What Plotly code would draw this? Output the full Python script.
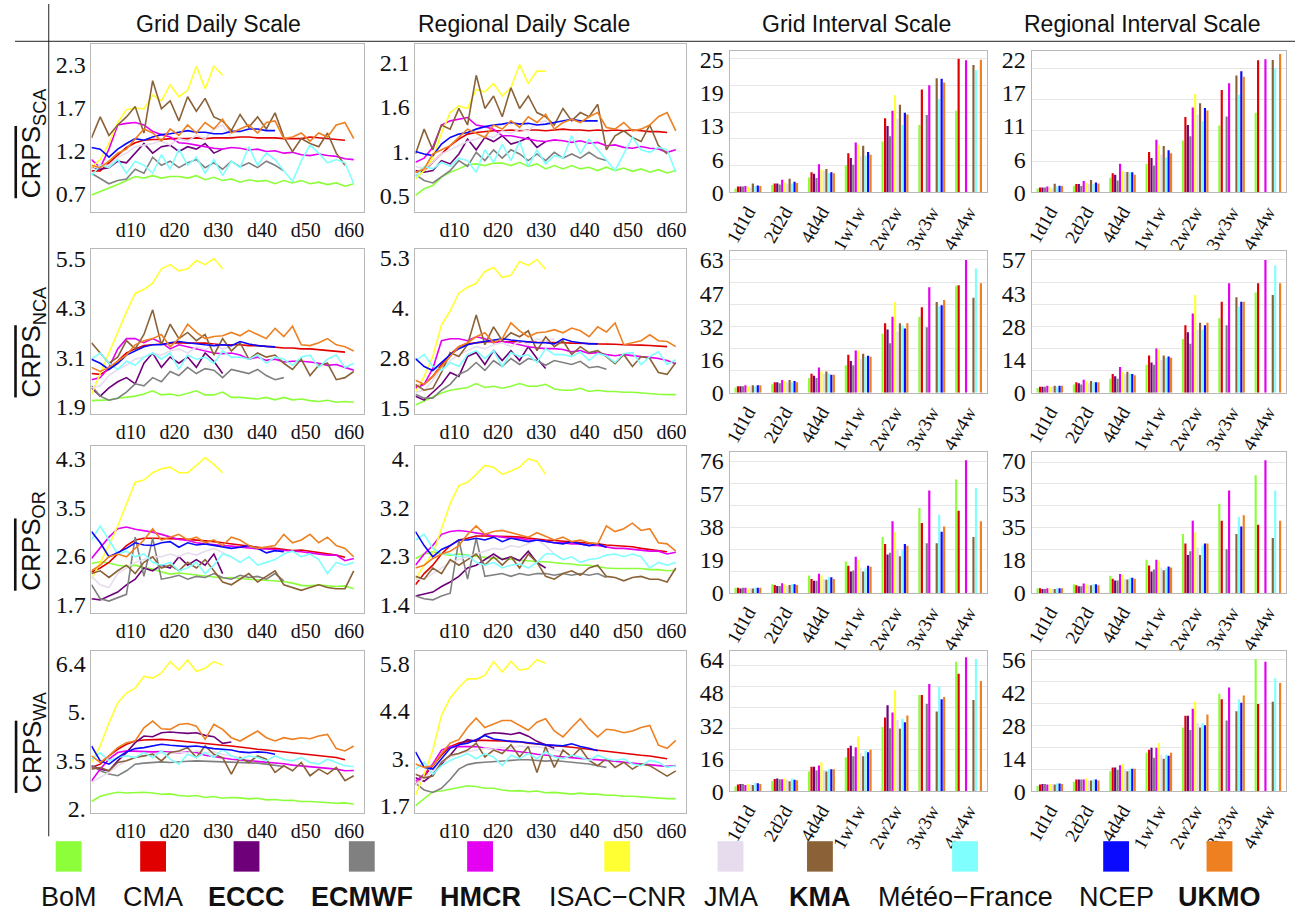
import plotly.graph_objects as go

W, H = 1296, 918

# ---------------------------------------------------------------- data
MODELS = ["BoM", "CMA", "ECCC", "ECMWF", "HMCR", "ISAC\u2212CNR", "JMA", "KMA",
          "Météo\u2212France", "NCEP", "UKMO"]
BOLD = [False, False, True, True, True, False, False, True, False, False, True]
COLORS = ["#8CFF3A", "#E00000", "#6E007A", "#808080", "#E400F0", "#FFFF33",
          "#E6DCEE", "#8B6238", "#80FFFF", "#0A0AFF", "#EE8022"]

DAYS = list(range(1, 63, 2))
DAY_TICKS = [10, 20, 30, 40, 50, 60]
DAY_LABELS = ["d10", "d20", "d30", "d40", "d50", "d60"]
INTERVALS = ["1d1d", "2d2d", "4d4d", "1w1w", "2w2w", "3w3w", "4w4w"]

# daily mean CRPS, one row per model (BoM ... UKMO), sampled every second day
SCA_GRID_DAILY = [
    [0.68,0.72,0.77,0.81,0.86,0.91,0.89,0.92,0.89,0.91,0.91,0.89,0.92,0.87,0.90,0.86,0.88,0.84,0.87,0.85,0.86,0.82,0.86,0.83,0.86,0.82,0.84,0.81,0.83,0.79,0.82],
    [0.98,0.98,1.08,1.17,1.27,1.33,1.36,1.37,1.37,1.38,1.38,1.38,1.39,1.38,1.39,1.39,1.39,1.40,1.40,1.39,1.39,1.39,1.38,1.38,1.38,1.40,1.39,1.38,1.37,1.36],
    [1.02,1.00,1.02,1.10,1.08,1.20,1.32,1.20,1.28,1.30,1.22,1.28,1.25,1.32,1.20,1.25],
    [0.95,0.88,0.82,0.86,0.88,1.00,0.95,1.15,1.05,1.10,1.02,1.08,1.12,1.02,1.08,1.00,1.10,1.03,1.08,1.02,1.10,1.05,0.98],
    [1.12,1.02,1.25,1.55,1.57,1.58,1.55,1.47,1.43,1.40,1.33,1.32,1.30,1.28,1.26,1.25,1.27,1.26,1.24,1.25,1.22,1.23,1.20,1.21,1.18,1.17,1.19,1.17,1.16,1.13,1.12],
    [1.02,1.12,1.32,1.58,1.74,1.76,1.75,1.92,1.85,2.05,1.90,1.98,2.28,2.00,2.28,2.17],
    [1.00,1.05,1.05,1.15,1.20,1.28,1.30,1.32,1.35,1.30,1.38,1.35,1.42,1.38,1.50,1.55,1.40],
    [1.39,1.65,1.42,1.55,1.65,1.78,1.45,2.10,1.75,1.85,1.60,1.90,1.72,1.88,1.65,1.60,1.48,1.68,1.52,1.65,1.50,1.70,1.40,1.22,1.38,1.32,1.28,1.45,1.20,1.05],
    [0.92,1.05,1.02,1.12,0.95,1.10,1.05,0.95,1.18,1.00,1.25,1.05,1.15,0.95,1.12,0.92,1.10,1.02,1.28,1.05,1.20,1.12,0.98,0.85,1.10,1.30,1.20,1.08,1.12,1.08,0.82],
    [1.27,1.25,1.15,1.25,1.32,1.38,1.36,1.40,1.43,1.44,1.46,1.48,1.46,1.46,1.44,1.44,1.47,1.47,1.50,1.50,1.48,1.48],
    [1.05,1.02,1.10,1.20,1.25,1.38,1.50,1.45,1.35,1.50,1.42,1.55,1.45,1.58,1.50,1.62,1.45,1.50,1.55,1.45,1.58,1.60,1.38,1.40,1.45,1.35,1.45,1.40,1.55,1.58,1.38],
]
SCA_REG_DAILY = [
    [0.50,0.58,0.62,0.72,0.78,0.82,0.87,0.88,0.86,0.89,0.89,0.86,0.90,0.85,0.88,0.82,0.86,0.82,0.86,0.82,0.84,0.80,0.84,0.80,0.83,0.79,0.82,0.78,0.81,0.77,0.80],
    [0.78,0.80,0.90,1.00,1.10,1.18,1.24,1.26,1.27,1.28,1.28,1.29,1.28,1.29,1.29,1.28,1.29,1.30,1.29,1.29,1.28,1.29,1.28,1.29,1.28,1.29,1.28,1.27,1.27,1.26],
    [0.80,0.78,0.80,0.92,0.88,1.00,1.18,1.05,1.20,1.15,1.22,1.12,1.15,1.20,1.08,1.15],
    [0.75,0.68,0.65,0.72,0.80,0.92,0.85,1.02,0.92,1.05,0.95,1.05,1.00,0.92,1.00,0.92,1.02,0.95,1.00,0.95,1.02,0.95,0.92],
    [0.90,0.95,1.08,1.35,1.40,1.42,1.44,1.35,1.33,1.30,1.22,1.22,1.20,1.18,1.16,1.15,1.17,1.16,1.14,1.16,1.13,1.14,1.10,1.11,1.08,1.07,1.09,1.07,1.06,1.02,1.05],
    [0.70,0.80,0.95,1.25,1.50,1.58,1.55,1.78,1.75,1.85,1.70,1.80,2.08,1.85,2.00,2.00],
    [0.85,0.82,0.90,1.00,1.05,1.10,1.15,1.18,1.22,1.20,1.28,1.25,1.30,1.28,1.38,1.40,1.32],
    [1.00,1.30,1.05,1.35,1.30,1.55,1.35,1.95,1.55,1.70,1.45,1.80,1.55,1.70,1.50,1.45,1.35,1.55,1.40,1.50,1.45,1.60,1.05,1.22,1.28,1.20,1.15,1.35,1.10,1.00],
    [0.72,0.85,0.82,0.90,0.85,0.95,0.92,0.78,1.05,0.90,1.12,0.92,1.15,0.85,1.05,0.88,0.98,0.95,1.22,1.00,1.18,1.05,0.92,0.80,1.00,1.20,1.05,1.02,1.08,1.05,0.78],
    [1.03,1.00,0.98,1.12,1.20,1.24,1.26,1.30,1.33,1.35,1.36,1.38,1.36,1.37,1.35,1.36,1.38,1.40,1.42,1.40,1.40,1.40],
    [0.78,0.82,1.00,1.05,1.10,1.20,1.30,1.25,1.20,1.35,1.30,1.40,1.32,1.45,1.38,1.48,1.30,1.38,1.42,1.38,1.45,1.50,1.32,1.30,1.38,1.28,1.30,1.35,1.45,1.50,1.28],
]
NCA_GRID_DAILY = [
    [2.04,2.05,2.06,2.10,2.12,2.15,2.20,2.28,2.18,2.20,2.16,2.22,2.28,2.18,2.18,2.25,2.12,2.12,2.10,2.08,2.12,2.06,2.12,2.06,2.08,2.04,2.02,2.05,2.00,2.02,2.00],
    [2.70,2.68,2.80,3.00,3.20,3.30,3.38,3.40,3.42,3.44,3.45,3.44,3.44,3.44,3.42,3.40,3.40,3.40,3.38,3.38,3.36,3.34,3.32,3.32,3.30,3.30,3.28,3.26,3.24,3.22],
    [2.35,2.15,2.35,2.50,2.60,2.45,2.95,3.20,2.85,3.10,2.95,3.10,2.85,3.20,3.00,2.70],
    [2.40,2.15,2.05,2.10,2.25,2.45,2.40,2.60,2.50,2.75,2.65,2.85,2.70,2.82,2.78,2.60,2.80,2.75,2.70,2.80,2.65,2.55,2.60],
    [2.55,2.60,2.85,3.30,3.55,3.55,3.45,3.55,3.45,3.30,3.40,3.35,3.30,3.25,3.20,3.18,3.20,3.15,3.05,3.10,3.02,3.05,2.98,3.00,3.00,2.98,2.95,2.90,2.92,2.85,2.78],
    [2.20,2.70,3.20,3.70,4.20,4.65,4.75,4.90,5.25,5.35,5.20,5.25,5.45,5.35,5.50,5.25],
    [2.35,2.40,2.65,2.80,2.90,3.05,3.10,3.20,3.15,3.25,3.30,3.20,3.35,3.28,3.40,3.30,3.35],
    [3.45,3.20,2.95,3.10,3.50,3.30,3.65,4.25,3.40,3.90,3.55,3.70,3.50,3.65,3.15,3.55,3.25,3.45,3.05,3.20,3.10,3.15,2.95,2.80,3.05,2.65,2.90,2.95,2.55,2.60,2.75],
    [3.05,3.20,2.95,2.80,3.00,2.90,3.10,3.20,3.05,3.20,2.80,3.15,3.05,3.10,2.95,3.25,3.10,3.10,3.05,3.15,2.95,3.10,3.05,2.90,3.10,3.15,2.85,3.05,3.15,2.85,2.95],
    [3.05,2.95,2.80,2.95,3.15,3.25,3.35,3.40,3.40,3.45,3.48,3.45,3.42,3.40,3.38,3.40,3.38,3.48,3.42,3.38,3.36,3.35],
    [2.85,2.75,2.85,3.00,3.15,3.40,3.50,3.55,3.65,3.35,3.55,3.90,3.70,3.55,3.60,3.62,3.70,3.62,3.75,3.65,3.55,3.80,3.60,3.85,3.40,3.38,3.45,3.55,3.40,3.35,3.25],
]
NCA_REG_DAILY = [
    [1.58,1.68,1.78,1.88,1.95,1.98,2.02,2.12,2.02,2.05,2.00,2.05,2.12,2.05,2.05,2.10,1.98,1.95,1.95,2.00,1.92,1.95,1.92,1.92,1.90,1.90,1.88,1.86,1.85,1.84,1.84],
    [2.05,2.10,2.30,2.60,2.85,3.05,3.12,3.15,3.17,3.18,3.18,3.18,3.17,3.17,3.16,3.16,3.15,3.15,3.14,3.14,3.13,3.12,3.12,3.11,3.10,3.10,3.09,3.08,3.06,3.05],
    [1.80,1.70,1.90,2.10,2.40,2.30,2.80,2.90,2.60,2.95,2.70,2.95,2.70,3.05,2.75,2.50],
    [1.85,1.75,1.75,1.95,2.10,2.35,2.45,2.65,2.45,2.70,2.55,2.75,2.60,2.75,2.70,2.58,2.70,2.65,2.60,2.68,2.52,2.55,2.48],
    [2.00,2.10,2.50,3.20,3.25,3.25,3.20,3.30,3.25,3.15,3.18,3.15,3.10,3.05,3.02,3.00,3.00,2.98,2.92,2.95,2.88,2.90,2.85,2.82,2.85,2.82,2.80,2.78,2.75,2.70,2.62],
    [1.90,2.30,2.80,3.60,3.95,4.40,4.55,4.65,4.95,5.05,4.80,4.85,5.20,5.10,5.25,5.00],
    [1.90,1.95,2.20,2.50,2.70,2.85,2.95,3.05,3.00,3.10,3.15,3.05,3.20,3.10,3.25,3.20,3.25],
    [2.10,1.95,2.00,2.40,2.90,2.80,3.10,3.85,3.10,3.55,3.20,3.40,3.30,3.45,2.95,3.30,3.05,3.20,2.85,3.05,2.90,2.95,2.80,2.62,2.85,2.55,2.80,2.75,2.40,2.35,2.65],
    [2.70,2.85,2.55,2.45,2.65,2.55,2.85,2.95,2.75,2.95,2.55,2.90,2.80,2.85,2.65,3.00,2.85,2.85,2.80,2.92,2.70,2.88,2.82,2.65,2.88,2.90,2.60,2.80,2.92,2.60,2.72],
    [2.75,2.55,2.45,2.65,2.85,3.00,3.10,3.15,3.18,3.22,3.25,3.22,3.20,3.18,3.15,3.15,3.12,3.25,3.18,3.15,3.12,3.12],
    [2.20,2.10,2.30,2.55,2.80,3.05,3.15,3.30,3.40,3.15,3.25,3.65,3.45,3.30,3.40,3.42,3.48,3.40,3.52,3.45,3.30,3.55,3.42,3.65,3.10,3.15,3.20,3.35,3.20,3.18,3.05],
]
OR_GRID_DAILY = [
    [2.43,2.46,2.44,2.40,2.38,2.40,2.36,2.33,2.28,2.24,2.26,2.24,2.22,2.20,2.19,2.17,2.18,2.16,2.15,2.14,2.13,2.12,2.11,2.08,2.04,2.03,2.05,2.03,2.02,2.03,1.98],
    [2.28,2.35,2.45,2.60,2.75,2.85,2.88,2.88,2.88,2.88,2.87,2.86,2.85,2.84,2.82,2.80,2.78,2.76,2.75,2.72,2.70,2.70,2.68,2.66,2.67,2.65,2.62,2.60,2.58,2.54],
    [1.80,1.78,1.85,1.92,2.05,2.15,2.35,2.30,2.40,2.35,2.55,2.40,2.50,2.40,2.60,2.25],
    [2.05,1.80,1.76,1.82,1.88,2.90,2.20,2.88,2.15,2.18,2.22,2.15,2.20,2.18,2.25,2.18,2.15,2.22,2.18,2.20,2.15,2.25,2.12],
    [2.52,2.70,2.90,3.05,3.08,3.04,3.02,2.99,2.95,2.90,2.86,2.84,2.80,2.78,2.76,2.75,2.74,2.72,2.71,2.69,2.69,2.68,2.66,2.65,2.64,2.62,2.60,2.58,2.58,2.48,2.52],
    [2.15,2.45,2.75,3.10,3.50,3.88,3.92,4.05,4.12,4.15,4.05,4.05,4.18,4.32,4.20,4.05],
    [2.20,2.05,2.00,2.25,2.35,2.45,2.50,2.55,2.55,2.60,2.55,2.62,2.58,2.65,2.70,2.62,2.55,2.45],
    [2.25,2.30,2.18,2.30,2.40,2.25,2.45,2.55,2.35,2.40,2.30,2.45,2.35,2.50,2.30,2.10,2.05,2.15,2.25,2.10,2.20,2.30,2.05,2.00,1.95,2.00,2.05,2.00,1.98,1.98,2.30],
    [2.85,3.10,2.85,2.60,2.65,2.55,2.60,2.45,2.40,2.45,2.30,2.35,2.45,2.25,2.40,2.60,2.55,2.45,2.55,2.40,2.45,2.50,2.60,2.65,2.55,2.60,2.50,2.25,2.45,2.40,2.45],
    [3.00,2.80,2.55,2.62,2.70,2.80,2.76,2.75,2.80,2.82,2.72,2.80,2.76,2.78,2.75,2.72,2.70,2.72,2.75,2.70,2.62,2.66,2.64],
    [2.30,2.40,2.55,2.60,2.55,2.70,2.85,3.05,2.85,2.90,2.95,2.85,2.90,2.80,2.85,2.75,2.90,2.85,2.75,2.70,2.72,2.75,2.95,2.80,2.85,2.95,2.80,2.90,2.75,2.70,2.55],
]
OR_REG_DAILY = [
    [2.22,2.30,2.34,2.30,2.28,2.30,2.28,2.26,2.24,2.22,2.22,2.20,2.19,2.18,2.16,2.16,2.14,2.13,2.12,2.10,2.10,2.07,2.05,2.04,2.04,2.03,2.04,2.02,2.02,2.00,2.01],
    [1.75,1.95,2.10,2.30,2.45,2.55,2.58,2.62,2.62,2.62,2.62,2.61,2.60,2.58,2.56,2.55,2.54,2.53,2.52,2.51,2.50,2.48,2.46,2.45,2.44,2.43,2.40,2.38,2.36,2.34],
    [1.55,1.58,1.62,1.72,1.80,1.90,2.05,2.10,2.20,2.30,2.20,2.25,2.18,2.35,2.15,2.05],
    [1.55,1.50,1.48,1.55,1.60,2.55,1.85,2.58,1.90,1.92,1.95,1.90,1.95,1.92,1.95,1.95,1.92,1.95,1.92,1.95,1.92,1.95,1.88],
    [2.10,2.30,2.45,2.65,2.70,2.72,2.70,2.68,2.65,2.62,2.60,2.58,2.58,2.55,2.55,2.52,2.50,2.50,2.48,2.48,2.45,2.45,2.42,2.40,2.40,2.38,2.36,2.35,2.35,2.30,2.33],
    [1.85,2.10,2.30,2.75,3.20,3.52,3.58,3.72,3.88,3.85,3.72,3.78,3.85,4.00,3.95,3.72],
    [1.85,1.85,1.95,2.05,2.15,2.20,2.25,2.30,2.35,2.40,2.38,2.45,2.42,2.48,2.55,2.45,2.30,2.20],
    [1.90,1.85,2.05,1.95,2.20,2.10,2.20,2.30,2.10,2.25,2.10,2.25,2.05,2.30,2.15,1.90,1.85,1.95,2.00,1.92,2.05,2.10,1.90,1.88,1.82,1.88,1.90,1.85,1.85,1.80,2.05],
    [2.55,2.65,2.40,2.30,2.30,2.25,2.28,2.15,2.10,2.15,2.05,2.10,2.12,2.05,2.15,2.30,2.30,2.20,2.25,2.15,2.20,2.22,2.28,2.30,2.25,2.30,2.25,2.05,2.15,2.10,2.15],
    [2.70,2.45,2.25,2.38,2.45,2.55,2.55,2.58,2.55,2.60,2.52,2.58,2.55,2.52,2.55,2.52,2.50,2.48,2.52,2.48,2.45,2.48,2.42],
    [2.05,2.10,2.22,2.30,2.35,2.45,2.65,2.80,2.65,2.70,2.72,2.68,2.65,2.60,2.68,2.62,2.55,2.60,2.52,2.55,2.50,2.48,2.80,2.70,2.75,2.85,2.72,2.75,2.50,2.48,2.35],
]
WA_GRID_DAILY = [
    [2.22,2.38,2.45,2.50,2.48,2.50,2.50,2.48,2.44,2.45,2.40,2.38,2.40,2.34,2.37,2.32,2.34,2.33,2.30,2.32,2.27,2.28,2.25,2.26,2.22,2.22,2.20,2.20,2.17,2.18,2.14],
    [3.25,3.35,3.60,3.80,3.95,4.05,4.08,4.10,4.10,4.08,4.05,4.02,4.00,3.98,3.95,3.92,3.90,3.86,3.83,3.80,3.78,3.75,3.72,3.68,3.65,3.63,3.61,3.58,3.55,3.48],
    [3.30,3.20,3.15,3.45,3.70,4.00,4.20,4.18,4.30,4.32,4.30,4.28,4.30,4.22,4.18,3.98,4.02],
    [3.30,3.15,3.05,3.00,3.15,3.35,3.38,3.40,3.42,3.40,3.43,3.44,3.45,3.44,3.43,3.42,3.42,3.40,3.40,3.38,3.35,3.32,3.28],
    [2.84,3.20,3.50,3.70,3.75,3.74,3.72,3.72,3.73,3.72,3.70,3.72,3.70,3.62,3.58,3.52,3.50,3.48,3.46,3.44,3.42,3.40,3.36,3.32,3.30,3.28,3.26,3.24,3.20,3.15,3.16],
    [3.40,3.90,4.60,5.20,5.50,5.65,6.00,5.95,6.10,6.45,6.20,6.50,6.15,6.25,6.45,6.35],
    [2.80,2.95,3.10,3.30,3.45,3.55,3.60,3.65,3.70,3.68,3.72,3.70,3.75,3.70,3.72,3.65,3.60,3.55],
    [3.20,3.25,3.15,3.40,3.45,3.55,3.60,3.65,3.45,3.70,3.75,3.85,3.55,3.90,3.65,3.55,3.05,3.55,3.40,3.60,3.50,3.10,3.30,3.15,3.40,3.00,3.20,3.05,3.25,2.85,3.00],
    [3.50,3.70,3.45,3.55,3.60,3.55,3.70,3.55,3.75,3.50,3.35,3.65,3.55,3.70,3.55,3.80,3.60,3.50,3.60,3.55,3.45,3.60,3.50,3.45,3.55,3.40,3.35,3.50,3.40,3.30,3.28],
    [3.90,3.45,3.35,3.55,3.72,3.82,3.85,3.90,3.95,3.92,3.90,3.88,3.90,3.85,3.82,3.80,3.78,3.72,3.70,3.72,3.70,3.65],
    [3.60,3.40,3.60,3.85,4.00,4.05,4.45,4.65,4.42,4.40,4.55,4.58,4.50,4.10,4.55,4.40,4.15,4.05,4.20,4.35,4.15,4.05,4.15,4.10,4.15,4.12,4.20,4.25,3.82,3.75,3.90],
]
WA_REG_DAILY = [
    [1.70,1.90,2.10,2.12,2.18,2.22,2.27,2.25,2.20,2.20,2.15,2.12,2.13,2.10,2.12,2.07,2.08,2.06,2.03,2.06,2.03,2.03,2.00,2.00,1.97,1.97,1.95,1.94,1.93,1.90,1.90],
    [2.30,2.55,2.85,3.15,3.40,3.50,3.55,3.58,3.58,3.58,3.56,3.55,3.54,3.50,3.48,3.46,3.43,3.40,3.38,3.35,3.32,3.30,3.26,3.22,3.20,3.17,3.15,3.13,3.10,3.05],
    [2.50,2.40,2.60,2.90,3.15,3.45,3.60,3.55,3.75,3.80,3.78,3.75,3.80,3.70,3.55,3.45,3.35],
    [2.35,2.15,2.08,2.20,2.45,2.75,2.88,2.93,2.95,2.97,2.98,3.00,3.02,3.02,3.00,2.98,3.00,2.98,2.95,2.93,2.90,2.85,2.80],
    [2.40,2.60,2.90,3.30,3.40,3.40,3.38,3.40,3.36,3.32,3.30,3.28,3.26,3.22,3.18,3.15,3.12,3.11,3.08,3.06,3.04,3.03,3.02,2.98,2.95,2.92,2.90,2.88,2.85,2.83,2.85],
    [2.00,2.60,3.30,4.30,4.80,5.10,5.35,5.35,5.45,5.85,5.55,5.85,5.60,5.65,5.90,5.80],
    [2.30,2.50,2.70,2.95,3.10,3.20,3.25,3.30,3.35,3.32,3.38,3.35,3.42,3.38,3.40,3.35,3.30,3.25],
    [2.60,2.50,2.55,2.95,3.15,3.20,3.30,3.50,3.10,3.30,3.20,3.45,3.10,3.40,2.65,3.40,2.80,3.30,3.10,3.35,3.00,2.85,3.05,2.80,2.95,2.75,2.90,2.85,2.70,2.55,2.70],
    [2.75,2.95,2.60,2.85,3.00,3.10,3.20,3.05,3.20,3.10,2.85,3.15,3.05,3.20,3.05,3.25,3.10,3.05,3.15,3.10,3.00,3.15,3.05,3.00,3.05,2.90,2.85,3.00,2.95,2.80,2.85],
    [3.25,2.80,2.75,3.05,3.35,3.45,3.50,3.60,3.72,3.62,3.58,3.55,3.54,3.50,3.48,3.45,3.44,3.42,3.48,3.40,3.35,3.28],
    [2.90,2.80,2.85,3.20,3.50,3.60,3.95,4.22,3.95,4.05,4.15,4.15,4.00,3.87,4.10,4.20,3.85,3.68,3.95,4.20,3.90,3.68,3.90,3.87,3.80,3.85,3.95,4.01,3.44,3.35,3.58],
]

# interval-scale CRPS, one row per model, columns follow INTERVALS
SCA_GRID_INT = [
    [0.74,1.4,2.8,5.1,9.6,12.7,15.4],
    [1.1,1.7,3.8,7.4,14.0,19.4,25.2],
    [1.1,1.7,3.5,6.5,12.5,None,None],
    [1.1,1.5,2.7,5.2,10.6,14.6,None],
    [1.2,2.4,5.3,9.4,15.4,20.2,24.9],
    [1.05,1.85,4.3,9.0,18.3,None,None],
    [0.9,1.65,4.1,6.9,13.9,None,None],
    [1.7,2.6,4.4,8.8,16.5,21.5,24.0],
    [1.2,1.7,3.6,6.9,12.7,17.6,23.0],
    [1.3,2.0,3.8,7.6,15.0,21.4,None],
    [1.2,1.8,3.6,7.1,14.7,20.7,25.0],
]
SCA_REG_INT = [
    [0.67,1.1,2.45,4.75,8.6,11.1,13.2],
    [0.84,1.4,3.2,6.7,12.5,17.0,21.9],
    [0.84,1.4,2.95,5.7,11.2,None,None],
    [0.84,1.05,2.0,4.45,9.3,12.6,None],
    [1.0,1.9,4.75,8.75,14.1,18.1,22.1],
    [0.84,1.55,3.55,7.9,16.3,None,None],
    [0.7,1.4,3.4,6.25,12.9,None,None],
    [1.45,2.05,3.4,7.7,14.8,19.4,21.95],
    [1.0,1.4,3.35,5.85,11.8,16.2,20.6],
    [1.1,1.65,3.35,7.0,14.0,20.1,None],
    [1.05,1.5,2.95,6.5,13.6,19.2,22.95],
]
NCA_GRID_INT = [
    [2.5,4,7,13,28,36,50.7],
    [3,5,9,18,33,40.5,51],
    [3,5,8,15,30,None,None],
    [3,4.5,7,13,23.5,31,None],
    [3.5,6,12,20,36,50,63],
    [3,5.5,10,20,43,None,None],
    [3,5,9,16,29,None,None],
    [3.5,6,10,18.5,33,43,45],
    [3,5,9,17,32,41,59],
    [3.5,5.5,8.5,17.5,30.5,41.5,None],
    [3.5,5,8.5,17,33,44,52],
]
NCA_REG_INT = [
    [2,3.5,6,12,23,32,43],
    [2.5,4.5,8,16,29,39,47],
    [2.5,4,7,13,26,None,None],
    [2.5,3.5,6,12,21,29,None],
    [3,5.5,11,19,34,47,57],
    [2.5,5,9,18.5,42,None,None],
    [2.5,4,8,14,27,None,None],
    [3,5,9,16,30,41,42],
    [2.5,4.5,8,15,27,37,54.6],
    [3,4.5,8,15.5,29,39,None],
    [3,4.5,7.5,15,30,39,47],
]
OR_GRID_INT = [
    [3,5,10,18,32,48.6,65],
    [3,4.5,8,15.6,28,40,47],
    [2.5,4,7,12.3,22,None,None],
    [3,4,7,12.8,23,28.5,None],
    [3,5.5,11,20.7,41,58.6,76],
    [2.5,5,10,19,35,None,None],
    [2.5,4,8,14.5,25,None,None],
    [2.5,4.5,7.5,12.3,21,28.5,32],
    [3,5,9,14,24.6,44.7,60],
    [3,5,9,15.6,28,35,None],
    [3,4.5,8,15,27,38,41],
]
OR_REG_INT = [
    [2.5,4.5,9,17.5,31,47,62],
    [2.5,4,7.5,14.4,26,38,36],
    [2,3.5,6.5,11.3,20,None,None],
    [2,3.5,6.5,12.4,22,23,None],
    [2.5,5,10,17.5,38,54,70],
    [2.5,4.5,9.5,17,32,None,None],
    [2,4,7.5,13.4,24,None,None],
    [2,4,7,11.9,20,31,29],
    [2.5,4.5,8,12.9,25,40,54],
    [2.5,4.5,8,13.9,26,35,None],
    [2.5,4,7.5,13.4,26,41,38],
]
WA_GRID_INT = [
    [2.4,4.8,9.5,16.5,31.1,46.7,62.8],
    [3.2,5.9,11.9,20.9,35.8,46.7,57.0],
    [3.5,6.1,11.9,22.0,41.7,None,None],
    [3.5,5.8,10.0,17.0,30.5,42.5,None],
    [3.0,5.8,12.5,21.3,38.2,52.0,65.0],
    [3.5,6.3,14.0,26.6,49.0,None,None],
    [3.4,5.6,10.3,18.5,34.5,None,None],
    [3.0,4.8,9.6,16.9,30.3,38.7,44.3],
    [4.0,6.1,10.6,19.7,35.2,50.7,64.2],
    [3.85,5.5,10.6,18.9,33.5,44.6,None],
    [3.5,5.3,10.6,20.1,36.8,45.7,53.5],
]
WA_REG_INT = [
    [2.2,4,8.5,16.3,27,41.4,56],
    [2.8,5,10,17.6,32,39,37],
    [3,5,10,18.4,32,None,None],
    [3,5,9,14.2,26,30,None],
    [2.8,5,11,18.4,35,44,55],
    [3,5.5,11.5,20.5,38,None,None],
    [3,4.5,9,15.5,29,None,None],
    [2.8,4.5,8.5,13.8,27,34,38],
    [3.3,5,9.5,15.5,29,39,48],
    [3.3,5,9.5,15,28,37.6,None],
    [3,4.5,9.5,16.3,32.6,40.6,46],
]

# y tick labels per panel
DAILY_TICKS = {
    "SCA_GRID": ["0.7", "1.2", "1.7", "2.3"], "SCA_REG": ["0.5", "1.", "1.6", "2.1"],
    "NCA_GRID": ["1.9", "3.1", "4.3", "5.5"], "NCA_REG": ["1.5", "2.8", "4.", "5.3"],
    "OR_GRID": ["1.7", "2.6", "3.5", "4.3"], "OR_REG": ["1.4", "2.3", "3.2", "4."],
    "WA_GRID": ["2.", "3.5", "5.", "6.4"], "WA_REG": ["1.7", "3.", "4.4", "5.8"],
}
INT_TICKS = {
    "SCA_GRID": ["0", "6", "13", "19", "25"], "SCA_REG": ["0", "6", "11", "17", "22"],
    "NCA_GRID": ["0", "16", "32", "47", "63"], "NCA_REG": ["0", "14", "28", "43", "57"],
    "OR_GRID": ["0", "19", "38", "57", "76"], "OR_REG": ["0", "18", "35", "53", "70"],
    "WA_GRID": ["0", "16", "32", "48", "64"], "WA_REG": ["0", "14", "28", "42", "56"],
}
REGIONS = ["SCA", "NCA", "OR", "WA"]
COLUMN_TITLES = ["Grid Daily Scale", "Regional Daily Scale",
                 "Grid Interval Scale", "Regional Interval Scale"]

DAILY = {
    "SCA_GRID": SCA_GRID_DAILY, "SCA_REG": SCA_REG_DAILY,
    "NCA_GRID": NCA_GRID_DAILY, "NCA_REG": NCA_REG_DAILY,
    "OR_GRID": OR_GRID_DAILY, "OR_REG": OR_REG_DAILY,
    "WA_GRID": WA_GRID_DAILY, "WA_REG": WA_REG_DAILY,
}
INTERVAL = {
    "SCA_GRID": SCA_GRID_INT, "SCA_REG": SCA_REG_INT,
    "NCA_GRID": NCA_GRID_INT, "NCA_REG": NCA_REG_INT,
    "OR_GRID": OR_GRID_INT, "OR_REG": OR_REG_INT,
    "WA_GRID": WA_GRID_INT, "WA_REG": WA_REG_INT,
}

# ---------------------------------------------------------------- layout geometry (pixels)
LINE_COLS = [(85, 359), (411, 683)]
BAR_COLS = [(727, 986), (1031, 1287)]
LINE_ROWS = [(41, 212), (250, 418), (450, 620), (659, 824)]
BAR_ROWS = [(48, 192), (252, 396), (456, 600), (659, 802)]
# y range of each daily panel [row][col]
LINE_YRANGE = [
    [(0.4685, 2.552), (0.2985, 2.325)],
    [(1.709, 5.722), (1.344, 5.506)],
    [(1.555, 4.533), (1.255, 4.233)],
    [(1.881, 6.777), (1.494, 6.159)],
]
GRID_STEP = [[5.04, 5.15], [10.5, 9.5], [12.5, 11.5], [10.2, 9.3]]

SERIF = "Liberation Serif, Times New Roman, serif"
SANS = "Liberation Sans, Arial, sans-serif"
FRAME = "#B8B8B8"


def xdom(a, b):
    return [a / W, b / W]


def ydom(a, b):
    return [1 - b / H, 1 - a / H]


fig = go.Figure()
layout = {}

for r, region in enumerate(REGIONS):
    for c in range(4):
        idx = r * 4 + c + 1
        xn = "x" if idx == 1 else f"x{idx}"
        yn = "y" if idx == 1 else f"y{idx}"
        xk = "xaxis" if idx == 1 else f"xaxis{idx}"
        yk = "yaxis" if idx == 1 else f"yaxis{idx}"
        key = f"{region}_{'GRID' if c % 2 == 0 else 'REG'}"
        if c < 2:
            series = DAILY[key]
            for m, vals in enumerate(series):
                fig.add_trace(go.Scatter(
                    x=DAYS[:len(vals)], y=vals, mode="lines",
                    line=dict(color=COLORS[m], width=1.6),
                    xaxis=xn, yaxis=yn, showlegend=False, hoverinfo="skip"))
            labels = DAILY_TICKS[key]
            lo, hi = float(labels[0]), float(labels[-1])
            tv = [lo + k * (hi - lo) / 3 for k in range(4)]
            layout[xk] = dict(
                domain=xdom(*LINE_COLS[c]), anchor=yn, range=[1, 63.3],
                tickmode="array", tickvals=DAY_TICKS, ticktext=DAY_LABELS,
                showline=True, mirror=True, linecolor=FRAME, linewidth=1,
                showgrid=False, zeroline=False, ticks="",
                tickfont=dict(family=SERIF, size=20, color="#111"))
            layout[yk] = dict(
                domain=ydom(*LINE_ROWS[r]), anchor=xn, range=list(LINE_YRANGE[r][c]),
                tickmode="array", tickvals=tv, ticktext=labels,
                showline=True, mirror=True, linecolor=FRAME, linewidth=1,
                showgrid=False, zeroline=False, ticks="",
                tickfont=dict(family=SERIF, size=24, color="#111"))
        else:
            series = INTERVAL[key]
            for m, vals in enumerate(series):
                fig.add_trace(go.Bar(
                    x=INTERVALS, y=vals, marker=dict(color=COLORS[m], line=dict(width=0)),
                    xaxis=xn, yaxis=yn, showlegend=False, hoverinfo="skip"))
            labels = INT_TICKS[key]
            top = float(labels[-1])
            tv = [top * k / 4 for k in range(5)]
            step = GRID_STEP[r][c - 2]
            gv = [step * k for k in range(1, 20) if step * k <= top * 1.06]
            layout[xk] = dict(
                domain=xdom(*BAR_COLS[c - 2]), anchor=yn, range=[-0.5, 6.5],
                showline=True, mirror=True, linecolor=FRAME, linewidth=1,
                showgrid=False, zeroline=False, ticks="", tickangle=-60,
                tickfont=dict(family=SERIF, size=19, color="#111"))
            layout[yk] = dict(
                domain=ydom(*BAR_ROWS[r]), anchor=xn, range=[0, top * 1.065],
                tickmode="array", tickvals=tv, ticktext=labels,
                showline=True, mirror=True, linecolor=FRAME, linewidth=1,
                showgrid=False, zeroline=False, ticks="",
                minor=dict(tickmode="array", tickvals=gv, showgrid=True,
                           gridcolor="#E6E6E6", gridwidth=1, ticks=""),
                tickfont=dict(family=SERIF, size=24, color="#111"))

annotations = []
# column headings
for title, cx in zip(COLUMN_TITLES, [213, 520, 855, 1143]):
    annotations.append(dict(
        text=title, x=cx / W, y=1 - 20 / H, xref="paper", yref="paper",
        showarrow=False, xanchor="center", yanchor="middle",
        font=dict(family=SANS, size=23, color="#111")))
# row headings
for region, cy in zip(REGIONS, [141, 344, 547, 752]):
    annotations.append(dict(
        text=f"<span style='text-decoration:overline'>CRPS</span><sub>{region}</sub>",
        x=26 / W, y=1 - cy / H, xref="paper", yref="paper", textangle=-90,
        showarrow=False, xanchor="center", yanchor="middle",
        font=dict(family=SANS, size=26, color="#111")))

shapes = [
    dict(type="line", xref="paper", yref="paper", x0=42 / W, x1=42 / W,
         y0=1 - 848 / H, y1=1, line=dict(color="#222", width=1)),
    dict(type="line", xref="paper", yref="paper", x0=8 / W, x1=1,
         y0=1 - 38 / H, y1=1 - 38 / H, line=dict(color="#222", width=1)),
]

# legend swatches and names
LEG_X = [62, 147, 241, 357, 476, 614, 728, 818, 964, 1116, 1220]
for name, col, bold, lx in zip(MODELS, COLORS, BOLD, LEG_X):
    shapes.append(dict(
        type="rect", xref="paper", yref="paper",
        x0=(lx - 13) / W, x1=(lx + 13) / W, y0=1 - 884 / H, y1=1 - 853 / H,
        fillcolor=col, line=dict(width=0)))
    annotations.append(dict(
        text=f"<b>{name}</b>" if bold else name,
        x=lx / W, y=1 - 910 / H, xref="paper", yref="paper",
        showarrow=False, xanchor="center", yanchor="middle",
        font=dict(family=SANS, size=27, color="#111")))

fig.update_layout(
    width=W, height=H, margin=dict(l=0, r=0, t=0, b=0),
    paper_bgcolor="white", plot_bgcolor="white",
    barmode="group", bargap=0.26, bargroupgap=0.12,
    annotations=annotations, shapes=shapes, showlegend=False,
    **layout)

fig.write_html("out.html")
